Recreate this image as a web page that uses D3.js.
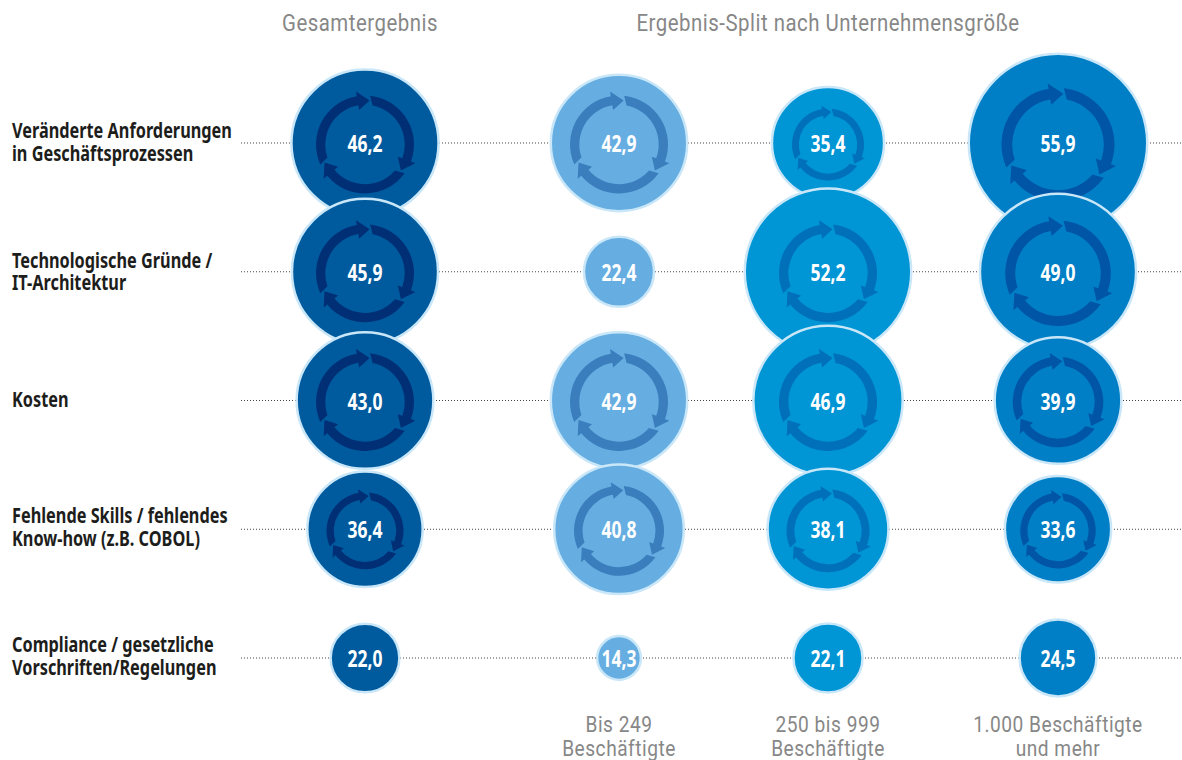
<!DOCTYPE html>
<html><head><meta charset="utf-8">
<script src="https://d3js.org/d3.v7.min.js"></script>
<style>html,body{margin:0;background:#fff}svg{display:block}</style></head>
<body><div id="c"></div>
<script>
const categories = [
  ["Veränderte Anforderungen","in Geschäftsprozessen"],
  ["Technologische Gründe /","IT-Architektur"],
  ["Kosten"],
  ["Fehlende Skills / fehlendes","Know-how (z.B. COBOL)"],
  ["Compliance / gesetzliche","Vorschriften/Regelungen"]
];
const gesamt = [46.2,45.9,43.0,36.4,22.0];
const bis249 = [42.9,22.4,42.9,40.8,14.3];
const bis999 = [35.4,52.2,46.9,38.1,22.1];
const ab1000 = [55.9,49.0,39.9,33.6,24.5];
const allSeries = [gesamt,bis249,bis999,ab1000];
const columnLabels = [null,["Bis 249","Beschäftigte"],["250 bis 999","Beschäftigte"],["1.000 Beschäftigte","und mehr"]];
const headers = ["Gesamtergebnis","Ergebnis-Split nach Unternehmensgröße"];

// styling
const fills = ["#005b9e","#66aee1","#0095d5","#007fc6"];
const ringFills = ["#002f76","#3a7ebd","#0070ba","#0055a6"];
const rimColor = "#c9e7f8";
// outer radius of the cycle-arrow ring (px) per series and row; 0 = no ring
const ringRadius = [
  [49,49,49,38.5,0],
  [49,0,49,45,0],
  [36,49,49,41.5,0],
  [56.5,52.8,45.3,37.7,0]
];
const labelShift=[0,1,0,-1,-1];

const W=1182,H=760;
const svg=d3.select("#c").append("svg").attr("width",W).attr("height",H);
const y=d3.scalePoint().domain(d3.range(5)).range([143,658]);
const x=d3.scaleOrdinal().domain(d3.range(4)).range([365,619,828,1058]);
const r=d3.scaleLinear().domain([0,55.9]).range([0,90.5]);

const font="'Noto Sans','Open Sans',sans-serif";
const headFont="Roboto,'Noto Sans',sans-serif";

// dotted guide lines
svg.append("g").selectAll("line").data(d3.range(5)).join("line")
 .attr("x1",241).attr("x2",1182).attr("y1",d=>y(d)).attr("y2",d=>y(d))
 .attr("stroke","#444").attr("stroke-width",1).attr("stroke-dasharray","1 2");

// row labels
svg.append("g").selectAll("text").data(categories).join("text")
 .attr("font-family",font).attr("font-weight",700).attr("font-size",20.5).attr("fill","#1d1d1b")
 .attr("transform",(d,i)=>`translate(12,${y(i)+labelShift[i]}) scale(0.795,1)`)
 .each(function(d){
   const t=d3.select(this);
   d.forEach((line,j)=>t.append("tspan").attr("x",0).attr("y",d.length===1?6:-5+j*22.5).text(line));
 });

// headers
const headX=[360,828];
svg.append("g").selectAll("text").data(headers).join("text")
 .attr("transform",(d,i)=>`translate(${headX[i]},31) scale(0.85,1)`).attr("text-anchor","middle")
 .attr("font-family",headFont).attr("font-size",24).attr("letter-spacing",.6).attr("fill","#878787").text(d=>d);

// footer column labels
svg.append("g").selectAll("text").data(columnLabels.slice(1)).join("text")
 .attr("text-anchor","middle").attr("font-family",headFont).attr("font-size",22.5).attr("letter-spacing",.6).attr("fill","#878787")
 .attr("transform",(d,i)=>`translate(${x(i+1)},731.5) scale(0.85,1)`)
 .each(function(d){
   const t=d3.select(this);
   d.forEach((line,j)=>t.append("tspan").attr("x",0).attr("y",j*24.5).text(line));
 });

function arrowPath(R,w){
  // three-fold cycle arrow, R = outer ring radius, w = band width
  const mid=R-w/2, hw=w*1.0, hl=w*1.3/mid, ri=R-w, p=d3.path();
  const rad=a=>a*Math.PI/180;
  const pt=(rr,a)=>[rr*Math.sin(a),-rr*Math.cos(a)];
  [6,126,246].forEach(tipDeg=>{
    const tip=rad(tipDeg), base=tip-hl, tail=rad(tipDeg-120);
    const tailN=rad(tipDeg-120+5);
    let q=pt(R,tail); p.moveTo(q[0],q[1]);
    p.arc(0,0,R,tail-Math.PI/2,base-Math.PI/2,false);
    q=pt(mid+hw,base); p.lineTo(q[0],q[1]);
    q=pt(mid,tip); p.lineTo(q[0],q[1]);
    q=pt(mid-hw,base); p.lineTo(q[0],q[1]);
    q=pt(ri,base); p.lineTo(q[0],q[1]);
    p.arc(0,0,ri,base-Math.PI/2,tailN-Math.PI/2,true);
    p.closePath();
  });
  return p.toString();
}

// rows drawn top to bottom so lower bubbles overlap upper ones
const cells=[];
d3.range(5).forEach(row=>allSeries.forEach((s,col)=>cells.push({row,col,v:s[row]})));
const g=svg.append("g").selectAll("g").data(cells).join("g")
 .attr("transform",d=>`translate(${x(d.col)},${y(d.row)})`);
g.append("circle").attr("r",d=>r(d.v)-1.25)
 .attr("fill",d=>fills[d.col]).attr("stroke",rimColor).attr("stroke-width",2.5);
g.filter(d=>ringRadius[d.col][d.row]>0).append("path")
 .attr("transform","translate(0,1.5)")
 .attr("fill",d=>ringFills[d.col])
 .attr("d",d=>{const R=ringRadius[d.col][d.row];return arrowPath(R,R*0.19);});
g.append("text").attr("text-anchor","middle")
 .attr("transform","translate(0,9) scale(0.76,1)")
 .attr("font-family",font).attr("font-weight",700).attr("font-size",23).attr("fill","#fff")
 .text(d=>d.v.toFixed(1).replace(".",","));
</script></body></html>
